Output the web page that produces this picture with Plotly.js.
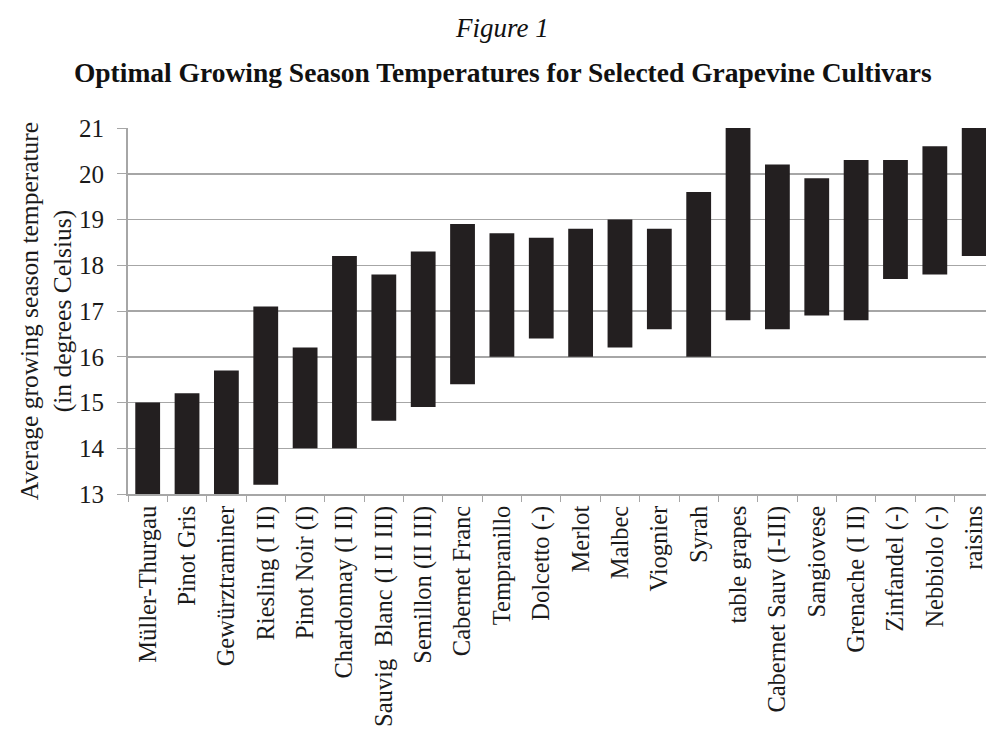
<!DOCTYPE html>
<html>
<head>
<meta charset="utf-8">
<script src="https://cdn.plot.ly/plotly-3.0.1.min.js"></script>
<style>body{margin:0;background:#fff;} #chart{width:986px;height:736px;}</style>
</head>
<body>
<div id="chart"></div>
<script>
const cultivars = ["Müller-Thurgau","Pinot Gris","Gewürztraminer","Riesling (I II)","Pinot Noir (I)","Chardonnay (I II)","Sauvig  Blanc (I II III)","Semillon (II III)","Cabernet Franc","Tempranillo","Dolcetto (-)","Merlot","Malbec","Viognier","Syrah","table grapes","Cabernet Sauv (I-III)","Sangiovese","Grenache (I II)","Zinfandel (-)","Nebbiolo (-)","raisins"];
const lowTemps  = [13.0,13.0,13.0,13.2,14.0,14.0,14.6,14.9,15.4,16.0,16.4,16.0,16.2,16.6,16.0,16.8,16.6,16.9,16.8,17.7,17.8,18.2];
const highTemps = [15.0,15.2,15.7,17.1,16.2,18.2,17.8,18.3,18.9,18.7,18.6,18.8,19.0,18.8,19.6,21.0,20.2,19.9,20.3,20.3,20.6,21.0];
const yTicks = [13,14,15,16,17,18,19,20,21];

const serif = "Liberation Serif";
const spans = highTemps.map((h,i) => +(h - lowTemps[i]).toFixed(2));

const trace = {
  type: 'bar',
  x: cultivars,
  y: spans,
  base: lowTemps,
  width: 0.63,
  marker: {color: '#231f20', line: {width: 0}},
  hoverinfo: 'skip'
};

const layout = {
  width: 986, height: 736,
  margin: {l: 128, r: 0, t: 128, b: 242, autoexpand: false},
  paper_bgcolor: '#ffffff', plot_bgcolor: '#ffffff',
  showlegend: false,
  font: {family: serif, color: '#1a1a1a', size: 22},
  title: {
    text: '<b>Optimal Growing Season Temperatures for Selected Grapevine Cultivars</b>',
    font: {family: serif, size: 27.5, color: '#111'},
    xref: 'container', x: 0.51, xanchor: 'center',
    yref: 'container', y: 1 - 72/736, yanchor: 'middle'
  },
  annotations: [{
    text: '<i>Figure 1</i>',
    xref: 'paper', yref: 'paper', x: (502-128)/858, y: (494-28)/366,
    xanchor: 'center', yanchor: 'middle', showarrow: false,
    font: {family: serif, size: 27, color: '#111'}
  }],
  xaxis: {
    type: 'category',
    range: [-0.5, 21.3],
    showgrid: false,
    showline: true, linecolor: '#a6a6a6', linewidth: 2,
    ticks: 'outside', tickson: 'boundaries', ticklen: 6, tickcolor: '#a6a6a6', tickwidth: 1,
    tickangle: -90,
    tickfont: {family: serif, size: 24.5, color: '#1a1a1a'},
    automargin: false, fixedrange: true
  },
  yaxis: {
    range: [13, 21],
    tickvals: yTicks,
    ticktext: yTicks.map(String),
    showgrid: true, gridcolor: '#a6a6a6', gridwidth: 1.5,
    showline: true, linecolor: '#a6a6a6', linewidth: 2,
    ticks: 'outside', ticklen: 9, tickcolor: '#a6a6a6', tickwidth: 1,
    ticklabelstandoff: 8,
    zeroline: false,
    tickfont: {family: serif, size: 25, color: '#1a1a1a'},
    title: {
      text: 'Average growing season temperature<br>(in degrees Celsius)',
      font: {family: serif, size: 25.5, color: '#1a1a1a'},
      standoff: 0
    },
    automargin: false, fixedrange: true
  },
  bargap: 0.37
};

Plotly.newPlot('chart', [trace], layout, {displayModeBar: false, staticPlot: true});
</script>
</body>
</html>
